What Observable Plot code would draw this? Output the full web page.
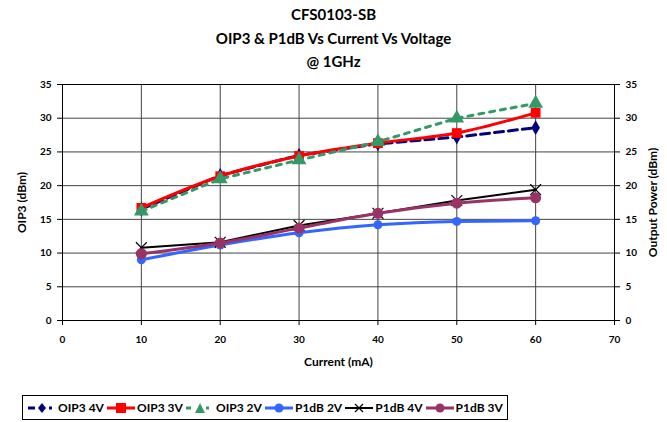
<!DOCTYPE html>
<html><head><meta charset="utf-8">
<script src="https://cdn.jsdelivr.net/npm/d3@7"></script>
<script src="https://cdn.jsdelivr.net/npm/@observablehq/plot@0.6"></script>
<style>
body{margin:0;background:#fff;font-family:Lato,"Open Sans",sans-serif;font-weight:bold;}
#wrap{position:relative;width:667px;height:422px;}
.t{position:absolute;left:0;width:667px;text-align:center;font-size:15px;font-weight:bold;color:#000;}
#chart{position:absolute;left:0;top:75px;}
#chart svg text{font-weight:bold;}
#legend{position:absolute;left:22px;top:395px;width:486px;height:25px;border:1px solid #000;box-sizing:border-box;display:flex;align-items:center;justify-content:space-evenly;padding:0 2px;white-space:nowrap;font-size:12px;overflow:hidden;}
#legend span.item{display:inline-flex;align-items:center;white-space:nowrap;}
</style></head><body>
<div id="wrap">
<div class="t" style="top:5px">CFS0103-SB</div>
<div class="t" style="top:29px">OIP3 &amp; P1dB Vs Current Vs Voltage</div>
<div class="t" style="top:52px">@ 1GHz</div>
<div id="chart"></div>
<div id="legend"></div>
</div>
<script>
const current = [10, 20, 30, 40, 50, 60];
const oip3_4V = [16.5, 21.5, 24.5, 26.2, 27.2, 28.6];
const oip3_3V = [16.7, 21.4, 24.4, 26.3, 27.8, 30.8];
const oip3_2V = [16.2, 21.0, 23.8, 26.5, 30.0, 32.2];
const p1db_2V = [9.0, 11.2, 13.0, 14.2, 14.7, 14.8];
const p1db_4V = [10.8, 11.6, 14.1, 15.9, 17.8, 19.4];
const p1db_3V = [9.9, 11.5, 13.7, 15.9, 17.4, 18.2];
const seriesNames = ["OIP3 4V", "OIP3 3V", "OIP3 2V", "P1dB 2V", "P1dB 4V", "P1dB 3V"];
const xTicks = [0, 10, 20, 30, 40, 50, 60, 70];
const yTicks = [0, 5, 10, 15, 20, 25, 30, 35];

const styles = [
  {values: oip3_4V, color: "#000080", symbol: "diamond", dash: "9,5", r: 4.5, w: 3, curve: "linear"},
  {values: oip3_3V, color: "#ff0000", symbol: "square", dash: null, r: 5.5, w: 3, curve: "monotone-x"},
  {values: oip3_2V, color: "#339966", symbol: "triangle", dash: "5,6", r: 5.5, w: 3, curve: "linear"},
  {values: p1db_2V, color: "#3366ff", symbol: "circle", dash: null, r: 4.5, w: 3, curve: "monotone-x"},
  {values: p1db_4V, color: "#000000", symbol: "times", dash: null, r: 5, w: 2, curve: "linear"},
  {values: p1db_3V, color: "#993366", symbol: "circle", dash: null, r: 5.5, w: 3, curve: "monotone-x"}
];

const marks = [
  Plot.gridX(xTicks, {stroke: "#444", strokeOpacity: 1, strokeWidth: 1}),
  Plot.gridY(yTicks, {stroke: "#444", strokeOpacity: 1, strokeWidth: 1}),
  Plot.frame({stroke: "#000", strokeWidth: 1}),
  Plot.axisX({ticks: xTicks, tickSize: 5, tickPadding: 10, label: "Current (mA)", labelAnchor: "center", labelArrow: "none", labelOffset: 45, fontSize: 10}),
  Plot.axisY({ticks: yTicks, anchor: "left", tickSize: 5, tickPadding: 6, label: "OIP3 (dBm)", labelAnchor: "center", labelArrow: "none", labelOffset: 45, fontSize: 10}),
  Plot.axisY({ticks: yTicks, anchor: "right", tickSize: 5, tickPadding: 6, label: "Output Power (dBm)", labelAnchor: "center", labelArrow: "none", labelOffset: 42, fontSize: 10})
];
styles.forEach((s, i) => {
  const data = current.map((c, j) => ({x: c, y: s.values[j], name: seriesNames[i]}));
  marks.push(Plot.line(data, {x: "x", y: "y", stroke: s.color, strokeWidth: s.w, strokeDasharray: s.dash, curve: s.curve}));
  const filled = s.symbol !== "times";
  marks.push(Plot.dot(data, {x: "x", y: "y", symbol: () => s.symbol, r: s.r, fill: filled ? s.color : "none", stroke: s.color, strokeWidth: filled ? 0 : 1.2}));
});

const chart = Plot.plot({
  width: 667, height: 310,
  marginTop: 9, marginBottom: 65, marginLeft: 62, marginRight: 53,
  style: {fontFamily: "Lato, 'Open Sans', sans-serif", fontWeight: "bold", fontSize: "10px", color: "#000", background: "#fff"},
  x: {domain: [0, 70]},
  y: {domain: [0, 35]},
  marks
});
chart.querySelectorAll("g[aria-label='x-axis label'] text, g[aria-label='y-axis label'] text").forEach(t => t.style.fontSize = "12px");
document.getElementById("chart").appendChild(chart);

const leg = document.getElementById("legend");
const symPaths = {
  diamond: '<path d="M15 1 L19 6 L15 11 L11 6Z" fill="COL"/>',
  square: '<rect x="10" y="1" width="10" height="10" fill="COL"/>',
  triangle: '<path d="M15 1 L20 11 L10 11Z" fill="COL"/>',
  circle: '<circle cx="15" cy="6" r="4.5" fill="COL"/>',
  times: '<path d="M11 2 L19 10 M19 2 L11 10" stroke="COL" stroke-width="1.2"/>'
};
styles.forEach((s, i) => {
  const line = s.dash
    ? `<line x1="1" y1="6" x2="29" y2="6" stroke="${s.color}" stroke-width="3" stroke-dasharray="${s.dash === '9,5' ? '7,14,3,10' : '5,15,3,10'}"/>`
    : `<line x1="1" y1="6" x2="29" y2="6" stroke="${s.color}" stroke-width="${s.w}"/>`;
  const sym = symPaths[s.symbol].replace("COL", s.color);
  leg.insertAdjacentHTML("beforeend", `<span class="item"><svg width="31" height="12">${line}${sym}</svg><span>${seriesNames[i]}</span></span>`);
});
</script>
</body></html>
